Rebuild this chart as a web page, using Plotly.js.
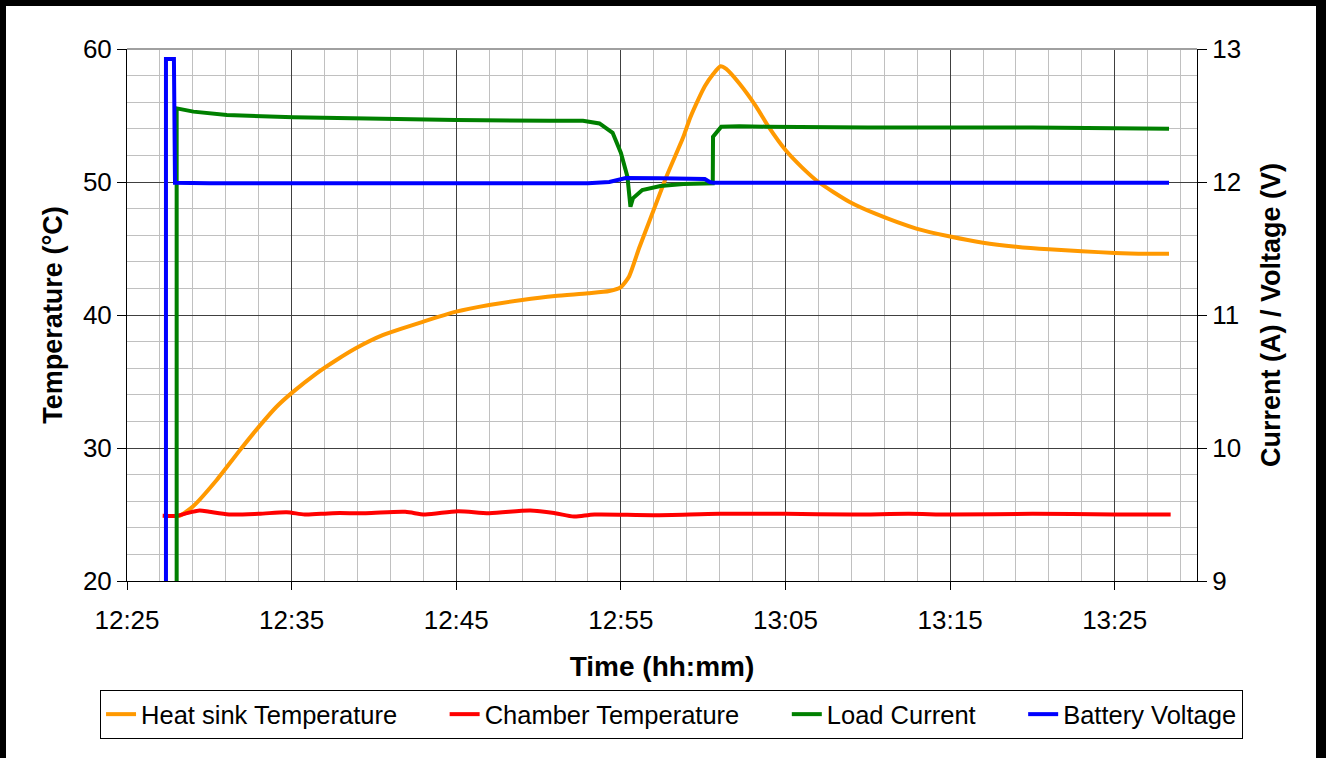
<!DOCTYPE html>
<html>
<head>
<meta charset="utf-8">
<script src="https://cdn.plot.ly/plotly-3.0.1.min.js"></script>
<style>
html,body{margin:0;padding:0;background:#fff;}
#wrap{position:relative;width:1326px;height:758px;overflow:hidden;}
#chart{position:absolute;left:0;top:0;width:1326px;height:758px;}
#frame{position:absolute;left:0;top:0;width:1326px;height:770px;box-sizing:border-box;border-left:6px solid #000;border-top:6px solid #000;border-right:10px solid #000;pointer-events:none;}
</style>
</head>
<body>
<div id="wrap"><div id="chart"></div><div id="frame"></div></div>
<script>
var DAY = '2024-01-01 ';

var heatSinkTime = ['12:28:00','12:28:12','12:29:00','12:30:27','12:31:52','12:33:05','12:34:05','12:35:04','12:36:30','12:37:42','12:38:54','12:40:34','12:43:00','12:45:00','12:47:00','12:49:00','12:51:00','12:53:00','12:54:18','12:55:00','12:55:30','12:56:06','12:56:45','12:57:46','12:58:48','12:59:12','12:59:42','13:00:06','13:00:36','13:01:03','13:01:24','13:02:12','13:03:12','13:04:00','13:05:00','13:06:00','13:07:00','13:08:54','13:10:30','13:12:57','13:15:00','13:17:00','13:19:00','13:21:00','13:23:00','13:25:00','13:27:00','13:28:18'];
var heatSinkTemp = [24.9,24.9,25.6,27.6,29.85,31.7,33.1,34.2,35.6,36.6,37.5,38.5,39.5,40.25,40.75,41.13,41.43,41.63,41.8,42.1,42.9,45.0,47.1,50.4,53.4,54.8,56.2,57.2,58.1,58.7,58.5,57.4,55.7,54.1,52.4,51.1,50.0,48.5,47.6,46.5,45.9,45.44,45.14,44.94,44.8,44.66,44.6,44.6];

var chamberTime = ['12:27:10','12:28:00','12:28:30','12:29:24','12:30:00','12:31:12','12:33:00','12:34:42','12:35:48','12:37:30','12:39:30','12:41:54','12:43:06','12:45:06','12:47:00','12:49:30','12:51:00','12:52:09','12:53:24','12:57:00','13:01:00','13:05:00','13:09:00','13:12:30','13:15:00','13:20:00','13:25:00','13:28:24'];
var chamberTemp = [24.9,24.9,25.05,25.3,25.2,25.0,25.05,25.17,25.0,25.1,25.1,25.2,25.0,25.25,25.1,25.3,25.1,24.85,25.0,24.95,25.05,25.05,25.0,25.05,25.0,25.05,25.0,25.0];

var loadTime = ['12:28:01','12:28:01','12:29:02','12:31:04','12:35:06','12:40:36','12:45:00','12:50:42','12:52:42','12:53:42','12:54:30','12:55:00','12:55:24','12:55:35','12:55:44','12:56:18','12:57:24','12:58:48','13:00:35','13:00:36','13:01:06','13:02:12','13:03:48','13:10:00','13:20:00','13:28:18'];
var loadCurrent = [8.9,12.554,12.529,12.504,12.486,12.471,12.466,12.461,12.461,12.44,12.37,12.22,12.04,11.814,11.877,11.94,11.97,11.985,11.99,12.34,12.416,12.42,12.416,12.41,12.41,12.40];

var batteryTime = ['12:27:22','12:27:22','12:27:51','12:27:55','12:30:00','12:40:00','12:53:00','12:54:18','12:55:18','12:57:24','13:00:06','13:00:24','13:00:36','13:28:18'];
var batteryVoltage = [8.9,12.925,12.925,11.995,11.99,11.99,11.99,12.0,12.03,12.028,12.023,12.0,11.995,11.995];

var seriesNames = ['Heat sink Temperature','Chamber Temperature','Load Current','Battery Voltage'];
var xTitle = 'Time (hh:mm)';
var yTitle = 'Temperature (°C)';
var y2Title = 'Current (A) / Voltage (V)';

function dt(arr){ return arr.map(function(s){ return DAY + s; }); }
var PAD = '\u00a0\u00a0\u00a0\u00a0\u00a0\u00a0';

var FONT = 'Liberation Sans, Arial, sans-serif';

var traces = [
  {x: dt(heatSinkTime), y: heatSinkTemp, name: seriesNames[0] + PAD, type: 'scatter', mode: 'lines',
   line: {color: '#FF9900', width: 4, shape: 'spline', smoothing: 0.6}, yaxis: 'y'},
  {x: dt(chamberTime), y: chamberTemp, name: seriesNames[1] + PAD, type: 'scatter', mode: 'lines',
   line: {color: '#FF0000', width: 4, shape: 'spline', smoothing: 0.8}, yaxis: 'y'},
  {x: dt(loadTime), y: loadCurrent, name: seriesNames[2] + PAD, type: 'scatter', mode: 'lines',
   line: {color: '#008000', width: 4}, yaxis: 'y2'},
  {x: dt(batteryTime), y: batteryVoltage, name: seriesNames[3], type: 'scatter', mode: 'lines',
   line: {color: '#0000FF', width: 4}, yaxis: 'y2'}
];

var layout = {
  width: 1326, height: 758,
  margin: {l: 127, r: 129, t: 49, b: 177, pad: 0},
  paper_bgcolor: '#ffffff', plot_bgcolor: '#ffffff',
  font: {family: FONT, size: 26, color: '#000'},
  showlegend: true,
  legend: {orientation: 'h', x: -0.0252, xanchor: 'left', y: -0.205, yanchor: 'top',
    bordercolor: '#000', borderwidth: 1, font: {family: FONT, size: 25.5, color: '#000'},
    traceorder: 'normal', itemwidth: 30},
  xaxis: {
    type: 'date',
    range: [DAY + '12:25:00', DAY + '13:30:00'],
    tick0: DAY + '12:25:00', dtick: 600000, tickformat: '%H:%M',
    showgrid: true, gridcolor: '#404040', gridwidth: 1,
    minor: {dtick: 120000, tick0: DAY + '12:25:00', showgrid: true, gridcolor: '#c0c0c0', gridwidth: 1, ticks: ''},
    showline: true, linecolor: '#000', linewidth: 1, mirror: false,
    ticks: 'outside', ticklen: 8, tickcolor: '#000', ticklabelstandoff: 8,
    tickfont: {family: FONT, size: 26, color: '#000'},
    title: {text: '<b>' + xTitle + '</b>', font: {family: FONT, size: 28, color: '#000'}, standoff: 22},
    zeroline: false, fixedrange: true
  },
  yaxis: {
    range: [20, 60], dtick: 10, tick0: 20,
    showgrid: true, gridcolor: '#404040', gridwidth: 1,
    minor: {dtick: 2, showgrid: true, gridcolor: '#c0c0c0', gridwidth: 1, ticks: ''},
    showline: true, linecolor: '#000', linewidth: 1,
    ticks: 'outside', ticklen: 9, tickcolor: '#000',
    tickfont: {family: FONT, size: 26, color: '#000'},
    title: {text: '<b>' + yTitle + '</b>', font: {family: FONT, size: 27, color: '#000'}, standoff: 12},
    zeroline: false, fixedrange: true
  },
  yaxis2: {
    overlaying: 'y', side: 'right',
    range: [9, 13], dtick: 1, tick0: 9,
    showgrid: false,
    showline: true, linecolor: '#000', linewidth: 1,
    ticks: 'outside', ticklen: 9, tickcolor: '#000',
    tickfont: {family: FONT, size: 26, color: '#000'},
    title: {text: '<b>' + y2Title + '</b>', font: {family: FONT, size: 27, color: '#000'}, standoff: 20},
    zeroline: false, fixedrange: true
  },
  shapes: [
    {type: 'line', xref: 'paper', yref: 'paper', x0: 0, x1: 1, y0: 1, y1: 1, line: {color: '#a0a0a0', width: 2}}
  ]
};

Plotly.newPlot('chart', traces, layout, {displayModeBar: false, staticPlot: true});
</script>
</body>
</html>
